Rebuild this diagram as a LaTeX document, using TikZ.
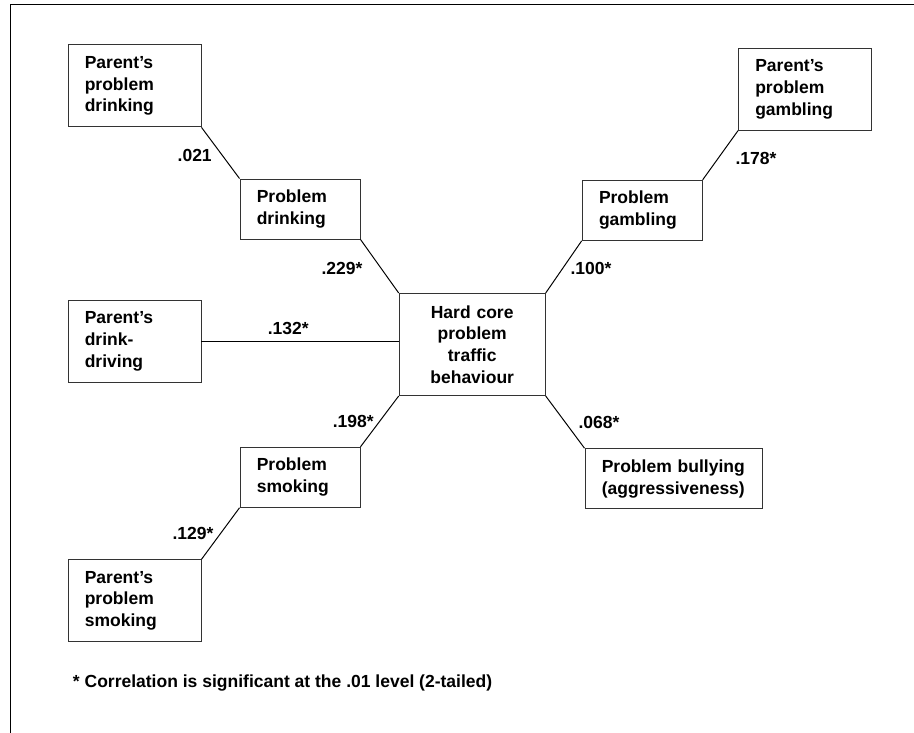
\documentclass[tikz,border=0pt]{standalone}
\usepackage{fontspec}
\setmainfont{Liberation Sans}
\usepackage{tikz}
\hyphenpenalty=10000

\begin{document}
\begin{tikzpicture}[
  every node/.style={font=\fontsize{12.45}{15.4}\selectfont\bfseries},
  box/.style={draw=black!80, line width=0.7pt, inner xsep=0.42cm, inner ysep=0pt, align=left},
  parentbox/.style={box, text width=2.485cm, minimum height=2.05cm},
  smallbox/.style={box, text width=2.16cm, minimum height=1.5cm},
  link/.style={line width=0.7pt}
]
\useasboundingbox (0,0) rectangle (22.85,18.325);
\draw [line width=1.1pt] (0.2625,0) -- (0.2625,18.2125) -- (22.85,18.2125);

\node [parentbox] (ppd) at (3.3625,16.1775) {Parent's\\problem\\drinking};
\node [parentbox] (pdd) at (3.3625,9.795) {Parent's\\drink-\\driving};
\node [parentbox] (pps) at (3.3625,3.305) {Parent's\\problem\\smoking};
\node [parentbox] (ppg) at (20.125,16.095) {Parent's\\problem\\gambling};

\node [smallbox] (pd) at (7.5,13.1) {Problem\\drinking};
\node [smallbox] (ps) at (7.5,6.3925) {Problem\\smoking};
\node [smallbox] (pg) at (16.055,13.0675) {Problem\\gambling};
\node [box, text width=3.6cm, minimum height=1.5cm] (pb) at (16.845,6.3575) {Problem bullying\\(aggressiveness)};

\node [box, align=center, inner xsep=0pt, text width=3.65cm, minimum height=2.55cm] (hc) at (11.805,9.7125) {Hard core\\problem\\traffic\\behaviour};

\draw [link] (ppd.south east) -- (pd.north west);
\draw [link] (pd.south east) -- (hc.north west);
\draw [link] (pdd.east) -- (pdd.east -| hc.west);
\draw [link] (hc.north east) -- (pg.south west);
\draw [link] (pg.north east) -- (ppg.south west);
\draw [link] (hc.south west) -- (ps.north east);
\draw [link] (ps.south west) -- (pps.north east);
\draw [link] (hc.south east) -- (pb.north west);

\node (l021) at (4.8675,14.4425) {.021};
\node (l229) at (8.55,11.625) {.229*};
\node (l132) at (7.2075,10.1175) {.132*};
\node (l100) at (14.775,11.625) {.100*};
\node (l178) at (18.9,14.375) {.178*};
\node (l198) at (8.8325,7.7825) {.198*};
\node (l068) at (14.975,7.7575) {.068*};
\node (l129) at (4.825,5.0) {.129*};

\node [anchor=west, inner sep=0pt] (note) at (1.8175,1.25) {* Correlation is significant at the .01 level (2-tailed)};
\end{tikzpicture}
\end{document}
